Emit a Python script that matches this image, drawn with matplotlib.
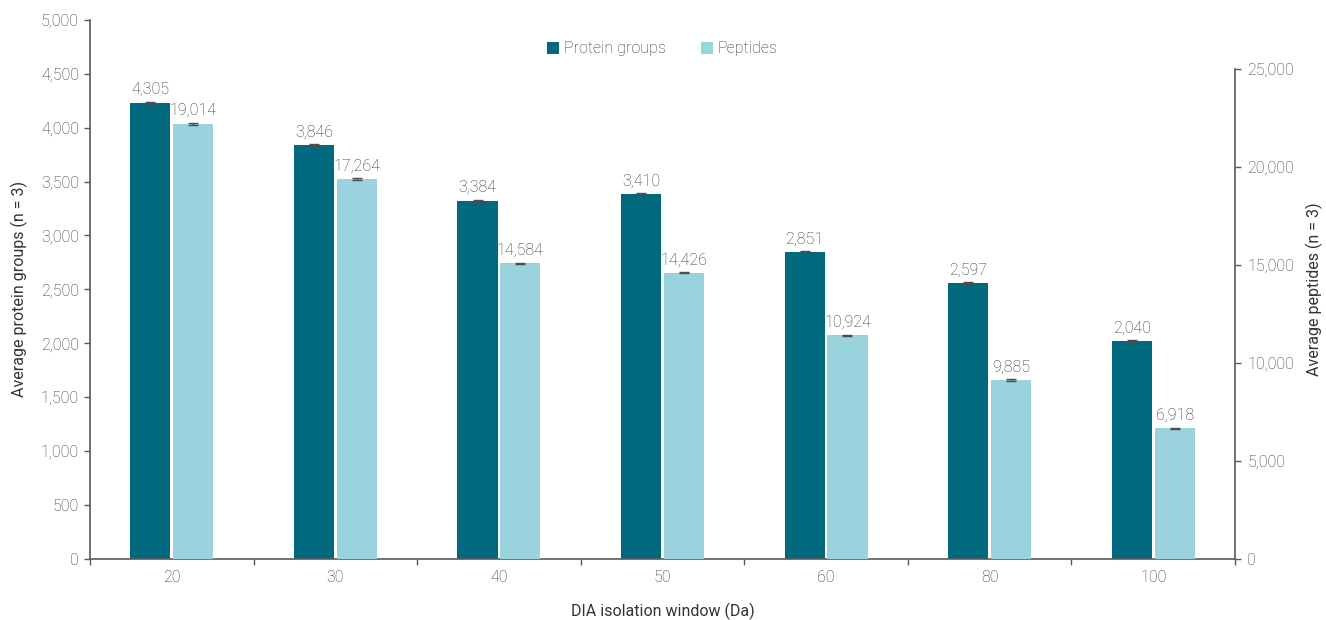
import matplotlib
matplotlib.use("Agg")
import matplotlib.pyplot as plt
import matplotlib.patches as patches
import numpy as np

# data
windows = ["20", "30", "40", "50", "60", "80", "100"]
protein_labels = [4305, 3846, 3384, 3410, 2851, 2597, 2040]
peptide_labels = [19014, 17264, 14584, 14426, 10924, 9885, 6918]
# drawn bar heights (the bars in the original do not sit exactly at their labels)
protein_heights = [4227, 3837, 3323, 3382, 2844, 2559, 2018]
peptide_heights = [22190, 19370, 15080, 14600, 11400, 9120, 6660]
protein_err = [15, 10, 8, 10, 8, 8, 8]
peptide_err = [60, 40, 30, 30, 30, 30, 30]

dark = "#00697D"
light = "#9AD2DD"
text_color = "#333333"
spine_color = "#5a5a5a"

plt.rcParams["font.family"] = ["Roboto", "DejaVu Sans"]
plt.rcParams["font.weight"] = "light"
plt.rcParams["font.size"] = 11.5
plt.rcParams["text.color"] = text_color
plt.rcParams["axes.labelcolor"] = text_color
plt.rcParams["xtick.color"] = spine_color
plt.rcParams["ytick.color"] = spine_color
plt.rcParams["xtick.labelcolor"] = text_color
plt.rcParams["ytick.labelcolor"] = text_color

fig = plt.figure(figsize=(13.26, 6.2), dpi=100)
ax = fig.add_axes([90 / 1326, (620 - 558.7) / 620, (1235 - 90) / 1326, (558.7 - 20) / 620])
ax2 = ax.twinx()

x = np.arange(len(windows))
bar_width = 0.246
offset = 0.131

ax.bar(x - offset, protein_heights, bar_width, color=dark, zorder=2)
ax.errorbar(x - offset, protein_heights, yerr=protein_err, fmt="none", ecolor="#4d4d4d", elinewidth=1, capsize=3.5, capthick=1, zorder=3)
ax2.bar(x + offset, peptide_heights, bar_width, color=light, zorder=2)
ax2.errorbar(x + offset, peptide_heights, yerr=peptide_err, fmt="none", ecolor="#4d4d4d", elinewidth=1, capsize=3.5, capthick=1, zorder=3)

for xi, h, e, lab in zip(x, protein_heights, protein_err, protein_labels):
    ax.annotate(f"{lab:,}", (xi - offset, h + e), xytext=(0, 3.5), textcoords="offset points", ha="center", va="bottom")
for xi, h, e, lab in zip(x, peptide_heights, peptide_err, peptide_labels):
    ax2.annotate(f"{lab:,}", (xi + offset, h + e), xytext=(0, 3.5), textcoords="offset points", ha="center", va="bottom")

ax.set_xlim(-0.5, len(windows) - 0.5)
ax.set_ylim(0, 5000)
ax2.set_ylim(0, 27500)

ax.set_yticks(np.arange(0, 5001, 500))
ax.set_yticklabels([f"{v:,}" for v in range(0, 5001, 500)])
ax2.set_yticks(np.arange(0, 25001, 5000))
ax2.set_yticklabels([f"{v:,}" for v in range(0, 25001, 5000)])

ax.set_xticks(x)
ax.set_xticklabels(windows)
ax.tick_params(axis="x", length=0, pad=8)
ax.set_xticks(np.arange(-0.5, len(windows)), minor=True)
ax.tick_params(axis="x", which="minor", length=4, width=1, direction="out")
ax.tick_params(axis="y", length=4, width=1, direction="out", pad=4)
ax2.tick_params(axis="y", length=4, width=1, direction="out", pad=5)

for a in (ax, ax2):
    a.spines["top"].set_visible(False)
    for s in ("left", "right", "bottom"):
        a.spines[s].set_color(spine_color)
        a.spines[s].set_linewidth(1.2)
ax.spines["right"].set_visible(False)
ax2.spines["left"].set_visible(False)
ax2.spines["bottom"].set_visible(False)
ax2.spines["right"].set_bounds(0, 25000)

ax.set_xlabel("DIA isolation window (Da)", labelpad=13)
ax.set_ylabel("Average protein groups (n = 3)", labelpad=9)
ax2.set_ylabel("Average peptides (n = 3)", labelpad=8)

handles = [
    patches.Patch(facecolor=dark, label="Protein groups"),
    patches.Patch(facecolor=light, label="Peptides"),
]
ax2.legend(handles=handles, loc="upper center", bbox_to_anchor=(0.5, 0.987), ncol=2, frameon=False,
           handlelength=0.75, handleheight=0.75, handletextpad=0.3, columnspacing=2.2)

fig.savefig("out.png", dpi=100)
